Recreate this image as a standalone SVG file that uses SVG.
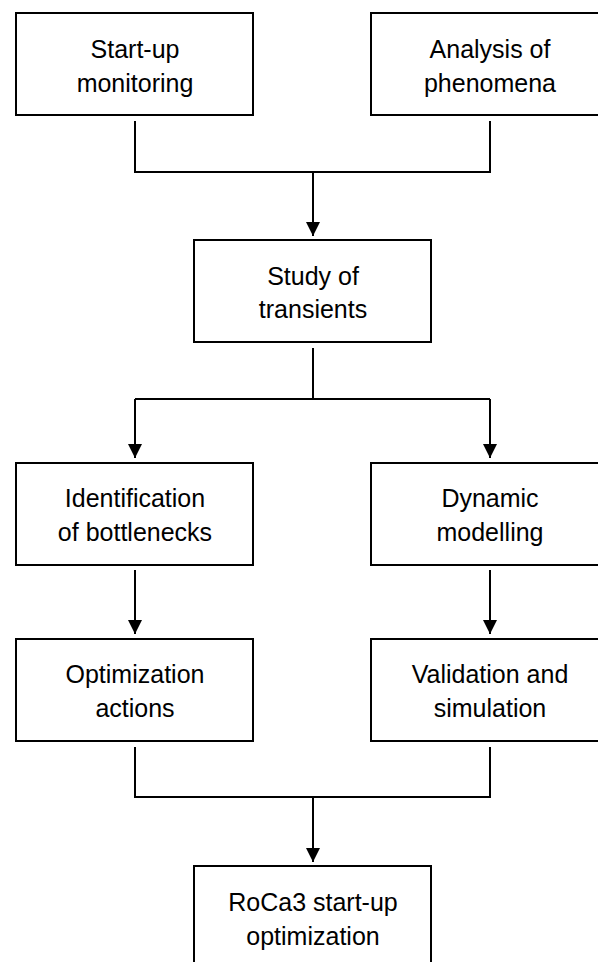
<svg xmlns="http://www.w3.org/2000/svg" width="598" height="962" viewBox="0 0 598 962">
  <style>
    .box { fill: #ffffff; stroke: #000000; stroke-width: 2; }
    .lbl { font-family: "Liberation Sans", Arial, sans-serif; font-size: 25px; fill: #000000; text-anchor: middle; }
    .wire { fill: none; stroke: #000000; stroke-width: 2; }
  </style>
  <defs>
    <marker id="arrow" markerUnits="userSpaceOnUse" markerWidth="14" markerHeight="14" refX="14" refY="7" orient="auto">
      <path d="M0,0 L14,7 L0,14 Z" fill="#000000"/>
    </marker>
  </defs>
  <rect width="598" height="962" fill="#ffffff"/>

  <g id="connectors">
    <!-- top pair merges into Study of transients -->
    <path class="wire" d="M135,121 V172 H490 V121"/>
    <path class="wire" d="M313,172 V236" marker-end="url(#arrow)"/>
    <!-- Study of transients splits into two branches -->
    <path class="wire" d="M313,348 V399"/>
    <path class="wire" d="M135,399 H490"/>
    <path class="wire" d="M135,399 V458" marker-end="url(#arrow)"/>
    <path class="wire" d="M490,399 V458" marker-end="url(#arrow)"/>
    <!-- branch steps -->
    <path class="wire" d="M135,570 V634" marker-end="url(#arrow)"/>
    <path class="wire" d="M490,570 V634" marker-end="url(#arrow)"/>
    <!-- branches merge into final box -->
    <path class="wire" d="M135,747 V797 H490 V747"/>
    <path class="wire" d="M313,797 V862" marker-end="url(#arrow)"/>
  </g>

  <g id="startup-monitoring">
    <rect class="box" x="16" y="13" width="237" height="102"/>
    <text class="lbl" x="135" y="58">Start-up</text>
    <text class="lbl" x="135" y="92">monitoring</text>
  </g>

  <g id="analysis-phenomena">
    <rect class="box" x="371" y="13" width="237" height="102"/>
    <text class="lbl" x="490" y="58">Analysis of</text>
    <text class="lbl" x="490" y="92">phenomena</text>
  </g>

  <g id="study-transients">
    <rect class="box" x="194" y="240" width="237" height="102"/>
    <text class="lbl" x="313" y="285">Study of</text>
    <text class="lbl" x="313" y="318">transients</text>
  </g>

  <g id="identification-bottlenecks">
    <rect class="box" x="16" y="463" width="237" height="102"/>
    <text class="lbl" x="135" y="507">Identification</text>
    <text class="lbl" x="135" y="541">of bottlenecks</text>
  </g>

  <g id="dynamic-modelling">
    <rect class="box" x="371" y="463" width="237" height="102"/>
    <text class="lbl" x="490" y="507">Dynamic</text>
    <text class="lbl" x="490" y="541">modelling</text>
  </g>

  <g id="optimization-actions">
    <rect class="box" x="16" y="639" width="237" height="102"/>
    <text class="lbl" x="135" y="683">Optimization</text>
    <text class="lbl" x="135" y="717">actions</text>
  </g>

  <g id="validation-simulation">
    <rect class="box" x="371" y="639" width="237" height="102"/>
    <text class="lbl" x="490" y="683">Validation and</text>
    <text class="lbl" x="490" y="717">simulation</text>
  </g>

  <g id="roca3-optimization">
    <rect class="box" x="194" y="866" width="237" height="102"/>
    <text class="lbl" x="313" y="911">RoCa3 start-up</text>
    <text class="lbl" x="313" y="945">optimization</text>
  </g>
</svg>
